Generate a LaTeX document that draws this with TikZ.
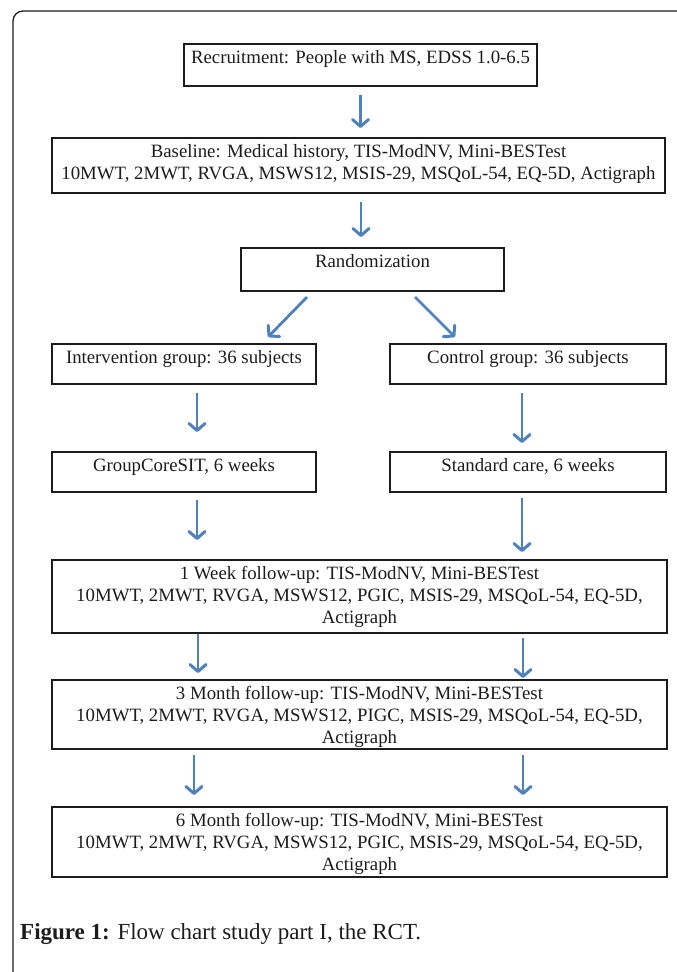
\documentclass[tikz,border=0pt]{standalone}
\usepackage{fontspec}
\setmainfont{Liberation Serif}
\usetikzlibrary{arrows.meta,calc}
\definecolor{arrblue}{HTML}{4F81BD}
\definecolor{inkc}{HTML}{1C1C1C}
\newcommand{\bxt}[3]{\parbox[t][#2pt][t]{#1pt}{\centering\rule{0pt}{19pt}#3}}
\tikzset{
  box/.style={draw=inkc, line width=1.4pt, inner sep=0pt, outer sep=0pt, anchor=north west,
    text=inkc, font=\fontsize{18.8}{22}\selectfont},
  arr/.style={draw=arrblue, line width=2.8pt, -{Straight Barb[length=7pt,width=16pt,line width=3pt,round]}},
  frame/.style={draw=inkc, line width=1.3pt, rounded corners=10pt},
  captxt/.style={anchor=base west, inner sep=0pt, text=inkc, font=\fontsize{23}{27}\selectfont}
}
\begin{document}
\begin{tikzpicture}[x=1pt,y=-1pt]
\useasboundingbox (0,0) rectangle (677,972);
\draw[frame] (13,975) -- (13,11) -- (680,11);

\node[box] (rec)  at (184,44)  {\bxt{353}{42}{Recruitment: People with MS, EDSS 1.0-6.5}};
\node[box] (base) at (52,138)  {\bxt{613}{55}{Baseline: Medical history, TIS-ModNV, Mini-BESTest\\10MWT, 2MWT, RVGA, MSWS12, MSIS-29, MSQoL-54, EQ-5D, Actigraph}};
\node[box] (rand) at (241,248) {\bxt{263}{43}{Randomization}};
\node[box] (int)  at (52,344)  {\bxt{264}{40}{Intervention group: 36 subjects}};
\node[box] (ctl)  at (390,344) {\bxt{276}{40}{Control group: 36 subjects}};
\node[box] (gcs)  at (52,452)  {\bxt{264}{40}{GroupCoreSIT, 6 weeks}};
\node[box] (std)  at (390,452) {\bxt{276}{40}{Standard care, 6 weeks}};
\node[box] (w1)   at (52,560)  {\bxt{615}{73}{1 Week follow-up: TIS-ModNV, Mini-BESTest\\10MWT, 2MWT, RVGA, MSWS12, PGIC, MSIS-29, MSQoL-54, EQ-5D,\\Actigraph}};
\node[box] (m3)   at (52,680)  {\bxt{615}{69}{3 Month follow-up: TIS-ModNV, Mini-BESTest\\10MWT, 2MWT, RVGA, MSWS12, PIGC, MSIS-29, MSQoL-54, EQ-5D,\\Actigraph}};
\node[box] (m6)   at (52,807)  {\bxt{615}{70}{6 Month follow-up: TIS-ModNV, Mini-BESTest\\10MWT, 2MWT, RVGA, MSWS12, PGIC, MSIS-29, MSQoL-54, EQ-5D,\\Actigraph}};

\node[captxt] (cap) at (20,939) {\textbf{Figure 1:} Flow chart study part I, the RCT.};

% connectors
\draw[arr, shorten <=9pt, shorten >=10pt] (rec.south) -- (rec.south |- base.north);
\draw[arr, shorten <=9pt, shorten >=11pt] ($(base.south west)+(309,0)$) coordinate (b1) -- (b1 |- rand.north);
\draw[arr] ($(rand.south west)+(66,6)$) -- ($(int.north west)+(216,-7)$);
\draw[arr] ($(rand.south east)+(-89,6)$) -- ($(ctl.north west)+(65,-7)$);
\draw[arr, shorten <=9pt, shorten >=20pt] ($(int.south west)+(145,0)$) coordinate (i1) -- (i1 |- gcs.north);
\draw[arr, shorten <=9pt, shorten >=9pt] ($(ctl.south west)+(132,0)$) coordinate (c1) -- (c1 |- std.north);
\draw[arr, shorten <=8pt, shorten >=20pt] ($(gcs.south west)+(145,0)$) coordinate (g1) -- (g1 |- w1.north);
\draw[arr, shorten <=6pt, shorten >=8pt] ($(std.south west)+(132,0)$) coordinate (s1) -- (s1 |- w1.north);
\draw[arr, shorten <=1pt, shorten >=7pt] ($(w1.south west)+(146,0)$) coordinate (w1a) -- (w1a |- m3.north);
\draw[arr, shorten <=5pt, shorten >=2pt] ($(w1.south west)+(471,0)$) coordinate (w1b) -- (w1b |- m3.north);
\draw[arr, shorten <=6pt, shorten >=12pt] ($(m3.south west)+(142,0)$) coordinate (m3a) -- (m3a |- m6.north);
\draw[arr, shorten <=6pt, shorten >=12pt] ($(m3.south west)+(471,0)$) coordinate (m3b) -- (m3b |- m6.north);
\end{tikzpicture}
\end{document}
